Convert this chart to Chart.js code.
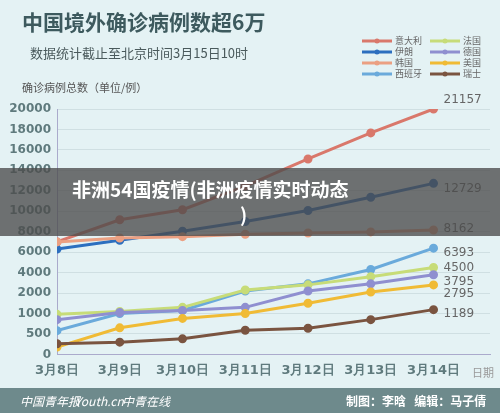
<!DOCTYPE html>
<html><head><meta charset="utf-8">
<script src="https://cdn.jsdelivr.net/npm/chart.js@4/dist/chart.umd.min.js"></script>
<style>html,body{margin:0;padding:0;background:#e4f2f4;}#w{width:500px;height:413px;position:relative;}</style>
</head><body><div id="w"><canvas id="c" width="500" height="413"></canvas></div>
<script>
const dates = ['3月8日','3月9日','3月10日','3月11日','3月12日','3月13日','3月14日'];
const yTickValues = [0,500,1000,2000,4000,6000,8000,10000,12000,14000,16000,18000,20000];
const italy   = [7000, 9172, 10149, 12462, 15113, 17660, 21157];
const iran    = [6300, 7161, 8042, 9000, 10075, 11364, 12729];
const korea   = [7000, 7382, 7513, 7755, 7869, 7979, 8162];
const spain   = [580, 1000, 1150, 2200, 2900, 4300, 6393];
const france  = [980, 1100, 1300, 2300, 2800, 3600, 4500];
const germany = [850, 1050, 1150, 1300, 2200, 2900, 3795];
const usa     = [180, 650, 880, 1000, 1500, 2100, 2795];
const swiss   = [260, 300, 380, 590, 640, 850, 1189];
const names = ['意大利','伊朗','韩国','西班牙','法国','德国','美国','瑞士'];
const colors = ['#d9786b','#2c6fbf','#eba082','#6aaadb','#c7dc78','#8f8fd0','#f0bb35','#7a5440'];
const series = [italy,iran,korea,spain,france,germany,usa,swiss];

function tr(v){
  for(let i=1;i<yTickValues.length;i++){
    if(v<=yTickValues[i]){const a=yTickValues[i-1],b=yTickValues[i];return i-1+(v-a)/(b-a);}
  }
  return yTickValues.length-1;
}
const datasets = series.map((s,k)=>({label:names[k],data:s.map((v,i)=>({x:i,y:tr(v)})),borderColor:colors[k],backgroundColor:colors[k],borderWidth:3,pointRadius:3,pointHoverRadius:3,tension:0}));
datasets.reverse();

const deco = {id:'deco',
 beforeDraw(ch){const c=ch.ctx;c.save();c.fillStyle='#e4f2f4';c.fillRect(0,0,500,413);c.restore();},
 afterDraw(ch){
  const c=ch.ctx;c.save();
  c.fillStyle='#3d5a5e';c.font='bold 21px "Noto Sans CJK SC"';c.textBaseline='middle';
  c.fillText('中国境外确诊病例数超6万',22,22);
  c.fillStyle='#4a5a5c';c.font='13px "Noto Sans CJK SC"';
  c.fillText('数据统计截止至北京时间3月15日10时',30,53);
  c.font='11px "Noto Sans CJK SC"';c.fillStyle='#555';
  c.fillText('确诊病例总数（单位/例）',22,88);
  c.fillStyle='#999';c.font='11px "Noto Sans CJK SC"';c.fillText('日期',472,373);
  const order=[[0,4],[1,5],[2,6],[3,7]];
  c.font='9px "Noto Sans CJK SC"';
  order.forEach((r,j)=>{r.forEach((k,m)=>{const x=362+m*68,y=41+j*11;c.strokeStyle=colors[k];c.lineWidth=3;c.beginPath();c.moveTo(x,y);c.lineTo(x+30,y);c.stroke();c.fillStyle=colors[k];c.beginPath();c.arc(x+15,y,2.5,0,7);c.fill();c.fillStyle='#666';c.fillText(names[k],x+33,y);});});
  const xs=ch.scales.x;c.font='12px "DejaVu Sans"';c.fillStyle='#666';
  const lab=[[italy,100],[iran,189],[korea,229],[spain,253],[france,268],[germany,282],[usa,294],[swiss,314]];
  lab.forEach(([s,y])=>c.fillText(String(s[6]),xs.getPixelForValue(6)+10,y));
  c.fillStyle='rgba(75,75,75,0.78)';c.fillRect(0,168,500,68);
  c.fillStyle='#fff';c.font='bold 19px "Noto Sans CJK SC"';c.textAlign='left';
  c.fillText('非洲54国疫情(非洲疫情实时动态',72,190);c.fillText(')',240,215);
  c.fillStyle='#6e8a8c';c.fillRect(0,388,500,25);
  c.fillStyle='#fff';c.font='bold 12px "Noto Sans CJK SC"';
  c.fillText('制图：李晗   编辑：马子倩',346,401);
  c.font='italic 12px "Noto Sans CJK SC"';c.fillText('中国青年报',20,401);c.fillText('Youth.cn',75,401);c.fillText('中青在线',122,401);
  c.restore();}};

new Chart(document.getElementById('c'),{type:'line',data:{datasets},
 options:{responsive:false,animation:false,devicePixelRatio:1,
  layout:{padding:{left:0,right:10,top:109,bottom:27}},
  plugins:{legend:{display:false},tooltip:{enabled:false}},
  scales:{
   x:{type:'linear',min:0,max:6.9,afterBuildTicks(a){a.ticks=[0,1,2,3,4,5,6].map(v=>({value:v}));},
      grid:{display:false,drawTicks:false},border:{color:'#aac',width:1},
      ticks:{callback:v=>dates[v],color:'#5f7a7d',font:{size:13,weight:'bold',family:'DejaVu Sans'},padding:8}},
   y:{type:'linear',min:0,max:12,afterFit(a){a.width=57;},
      afterBuildTicks(a){a.ticks=yTickValues.map((v,i)=>({value:i}));},
      grid:{color:'#cfdfe2',drawTicks:false,lineWidth:1},border:{display:true,color:'#aac'},
      ticks:{callback:(v)=>yTickValues[v],color:'#5f7a7d',font:{size:12,weight:'bold',family:'DejaVu Sans'},padding:6}}
  }},plugins:[deco]});
</script></body></html>
